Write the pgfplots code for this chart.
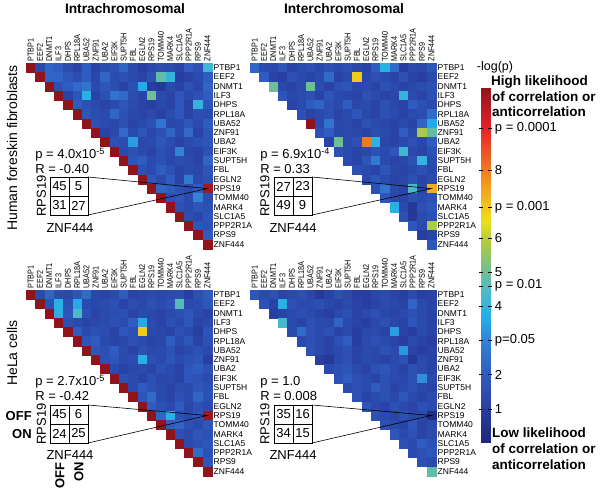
\documentclass[border=0pt]{standalone}
\usepackage{fontspec}
\setmainfont{Liberation Sans}
\usepackage{graphicx}
\usepackage{pgfplots}
\pgfplotsset{compat=1.18}

\newcommand\fs[1]{\fontsize{#1}{#1}\selectfont}
\newcommand\cl[1]{\scalebox{0.85}[1]{#1}}
\newcommand\hrow[2]{\addplot[cell] table[x expr=\coordindex+#1, y expr=19-#1, meta index=0, header=false, row sep=\\]{#2};}

\pgfplotsset{
  colormap={cm}{
    rgb255(0pt)=(30,38,120);
    rgb255(10pt)=(40,62,160);
    rgb255(20pt)=(47,92,192);
    rgb255(30pt)=(50,130,215);
    rgb255(37pt)=(35,175,235);
    rgb255(45pt)=(80,188,195);
    rgb255(50pt)=(110,190,150);
    rgb255(60pt)=(185,205,55);
    rgb255(65pt)=(235,225,25);
    rgb255(75pt)=(245,160,30);
    rgb255(92pt)=(230,35,40);
    rgb255(104pt)=(145,20,28)
  },
  hm/.style={
    anchor=north west,
    x=9.3pt, y=9.3pt, xmin=-0.5, xmax=19.5, ymin=-0.5, ymax=19.5,
    axis line style={draw=none}, major tick length=0pt, tick style={draw=none},
    xtick={0,...,19}, ytick={0,...,19},
    xticklabels={\cl{PTBP1},\cl{EEF2},\cl{DNMT1},\cl{ILF3},\cl{DHPS},\cl{RPL18A},\cl{UBA52},\cl{ZNF91},\cl{UBA2},\cl{EIF3K},\cl{SUPT5H},\cl{FBL},\cl{EGLN2},\cl{RPS19},\cl{TOMM40},\cl{MARK4},\cl{SLC1A5},\cl{PPP2R1A},\cl{RPS9},\cl{ZNF444}},
    yticklabels={ZNF444,RPS9,PPP2R1A,SLC1A5,MARK4,TOMM40,RPS19,EGLN2,FBL,SUPT5H,EIF3K,UBA2,ZNF91,UBA52,RPL18A,DHPS,ILF3,DNMT1,EEF2,PTBP1},
    xticklabel pos=right, yticklabel pos=right,
    x tick label style={rotate=90, anchor=west, font=\fs{8.5}, inner sep=1.5pt},
    y tick label style={anchor=west, font=\fs{8.5}, inner sep=1.5pt},
    colormap name=cm, point meta min=0, point meta max=10.4, clip=false,
  },
  cell/.style={scatter, only marks, mark=square*, mark size=4.55pt, point meta=explicit,
    scatter/use mapped color={draw=mapped color, fill=mapped color}, mark options={line width=0.2pt}},
}

\begin{document}
\begin{tikzpicture}
\useasboundingbox (0,0) rectangle (600pt,490pt);

% ---------- headings and colour-bar texts
\node[font=\fs{13.75}\bfseries] at (125pt,481pt) {Intrachromosomal};
\node[font=\fs{13.75}\bfseries] at (344pt,481pt) {Interchromosomal};
\node[font=\fs{14}, rotate=90] at (12pt,342pt) {Human foreskin fibroblasts};
\node[font=\fs{14}, rotate=90] at (12pt,137pt) {HeLa cells};
\node[inner sep=0pt] at (495pt,423pt) {\fontsize{12.5}{14}\selectfont -log(p)};
\begin{scope}[every node/.style={font=\fs{13.5}\bfseries, anchor=west, inner sep=0pt}]
\node at (491pt,408pt) {High likelihood};
\node at (492pt,393pt) {of correlation or};
\node at (492pt,378pt) {anticorrelation};
\node at (492pt,57pt) {Low likelihood};
\node at (492pt,41pt) {of correlation or};
\node at (492pt,25pt) {anticorrelation};
\end{scope}

% ---------- Top-left: fibroblasts, intrachromosomal
\begin{axis}[hm, at={(26pt,427pt)}]
\hrow{0}{10.4\\1.3\\2.2\\2.0\\1.5\\1.2\\2.0\\1.2\\1.5\\1.6\\2.2\\1.4\\1.0\\1.3\\1.5\\1.4\\1.2\\2.0\\1.6\\4.2\\}
\hrow{1}{10.4\\2.2\\2.2\\1.8\\1.5\\2.0\\1.3\\2.2\\1.5\\1.6\\1.4\\1.2\\1.6\\4.8\\4.0\\1.0\\1.2\\1.4\\2.0\\}
\hrow{2}{10.4\\1.6\\2.0\\2.4\\2.6\\1.4\\1.8\\1.5\\1.2\\1.6\\3.6\\1.0\\0.8\\1.4\\1.2\\1.6\\1.3\\2.2\\}
\hrow{3}{10.4\\1.2\\1.8\\3.8\\1.2\\1.6\\2.6\\2.4\\1.5\\1.2\\5.0\\1.4\\1.2\\1.8\\1.4\\1.6\\2.0\\}
\hrow{4}{10.4\\2.0\\1.6\\1.4\\1.2\\1.4\\1.8\\1.4\\1.2\\1.0\\1.3\\1.2\\1.8\\1.2\\4.0\\1.8\\}
\hrow{5}{10.4\\1.8\\1.5\\1.4\\2.2\\1.6\\1.3\\1.2\\1.4\\1.1\\1.5\\1.8\\1.2\\1.6\\1.5\\}
\hrow{6}{10.4\\1.6\\1.4\\1.3\\1.6\\1.2\\1.4\\1.6\\2.6\\1.3\\1.4\\1.8\\1.4\\2.0\\}
\hrow{7}{10.4\\1.2\\1.3\\2.4\\1.4\\1.8\\1.3\\1.6\\2.2\\1.4\\2.4\\1.2\\1.8\\}
\hrow{8}{10.4\\1.6\\1.5\\3.4\\1.3\\1.4\\1.8\\1.5\\1.2\\1.4\\1.6\\1.8\\}
\hrow{9}{10.4\\1.4\\1.6\\1.4\\1.2\\1.6\\1.4\\3.0\\1.3\\1.2\\1.6\\}
\hrow{10}{10.4\\1.8\\2.0\\1.4\\1.6\\1.3\\1.5\\1.4\\1.2\\2.2\\}
\hrow{11}{10.4\\1.6\\1.4\\2.0\\1.6\\1.2\\1.4\\1.3\\1.8\\}
\hrow{12}{10.4\\1.8\\1.4\\2.0\\1.2\\2.8\\1.4\\1.6\\}
\hrow{13}{10.4\\2.2\\2.0\\1.6\\1.4\\2.0\\10.1\\}
\hrow{14}{10.4\\1.6\\1.8\\1.4\\3.0\\1.5\\}
\hrow{15}{10.4\\1.6\\1.4\\1.8\\1.6\\}
\hrow{16}{10.4\\1.5\\1.3\\1.8\\}
\hrow{17}{10.4\\1.8\\1.6\\}
\hrow{18}{10.4\\2.0\\}
\hrow{19}{10.4\\}
\end{axis}

% ---------- Top-right: fibroblasts, interchromosomal
\begin{axis}[hm, at={(250pt,427pt)}]
\hrow{0}{2.2\\1.4\\1.4\\1.8\\1.2\\1.4\\1.6\\1.3\\1.6\\1.4\\1.6\\1.3\\1.2\\2.0\\3.8\\2.4\\1.0\\1.4\\1.3\\1.8\\}
\hrow{1}{2.0\\1.2\\1.0\\1.6\\1.4\\1.2\\1.4\\2.4\\1.2\\1.4\\6.8\\1.3\\1.6\\1.4\\1.2\\1.6\\1.2\\1.0\\1.4\\}
\hrow{2}{5.0\\1.3\\1.2\\1.4\\5.0\\1.5\\1.2\\1.6\\1.8\\1.3\\1.4\\1.2\\1.6\\1.4\\1.2\\1.3\\1.5\\1.6\\}
\hrow{3}{1.8\\1.3\\1.4\\1.6\\1.2\\1.8\\1.4\\1.3\\1.2\\1.6\\1.4\\1.2\\1.3\\4.0\\1.4\\1.2\\1.6\\}
\hrow{4}{1.2\\1.4\\2.0\\2.2\\1.6\\1.4\\2.0\\1.3\\1.4\\1.2\\1.6\\1.3\\1.2\\2.0\\1.6\\1.4\\}
\hrow{5}{1.6\\1.2\\1.4\\1.6\\1.2\\1.4\\1.8\\1.3\\1.2\\1.6\\1.4\\1.2\\1.4\\1.5\\2.4\\}
\hrow{6}{10.4\\1.4\\2.6\\1.3\\1.4\\1.2\\1.6\\1.4\\1.3\\1.2\\1.4\\1.2\\2.2\\3.6\\}
\hrow{7}{1.6\\2.0\\1.3\\1.4\\1.3\\1.2\\1.5\\1.4\\1.2\\2.0\\1.4\\5.8\\4.8\\}
\hrow{8}{1.2\\5.0\\1.4\\1.6\\8.0\\3.9\\1.3\\1.2\\1.4\\1.6\\1.3\\2.0\\}
\hrow{9}{1.6\\1.4\\1.2\\1.3\\1.6\\1.4\\1.8\\4.2\\1.4\\1.2\\1.6\\}
\hrow{10}{1.4\\1.2\\1.8\\2.8\\1.4\\1.2\\1.3\\1.6\\4.0\\1.4\\}
\hrow{11}{1.6\\1.4\\1.2\\1.8\\1.3\\1.2\\1.4\\1.6\\1.3\\}
\hrow{12}{1.4\\1.8\\1.4\\1.2\\1.3\\1.6\\1.2\\1.4\\}
\hrow{13}{1.6\\2.6\\1.4\\1.2\\4.4\\1.3\\7.3\\}
\hrow{14}{1.8\\1.3\\1.2\\1.6\\1.4\\1.6\\}
\hrow{15}{3.8\\1.4\\0.8\\1.6\\1.8\\}
\hrow{16}{1.6\\0.8\\1.4\\1.6\\}
\hrow{17}{1.8\\1.4\\5.8\\}
\hrow{18}{1.0\\1.2\\}
\hrow{19}{1.8\\}
\end{axis}

% ---------- Bottom-left: HeLa, intrachromosomal
\begin{axis}[hm, at={(26pt,200pt)}]
\hrow{0}{10.4\\1.4\\2.2\\1.5\\1.3\\1.8\\2.4\\1.3\\1.2\\1.4\\2.0\\1.2\\1.3\\1.4\\1.3\\1.4\\1.5\\1.0\\1.6\\2.0\\}
\hrow{1}{10.4\\1.6\\3.8\\1.6\\3.6\\1.4\\1.3\\1.4\\1.6\\1.2\\1.5\\1.3\\1.6\\1.4\\1.6\\4.6\\1.4\\1.5\\1.8\\}
\hrow{2}{10.4\\3.8\\1.8\\4.4\\1.6\\1.2\\1.4\\1.5\\1.6\\1.2\\1.4\\1.3\\1.2\\1.4\\1.6\\1.8\\1.4\\1.2\\}
\hrow{3}{10.4\\1.6\\1.4\\1.2\\1.3\\1.4\\1.6\\1.4\\2.0\\3.6\\1.4\\1.2\\1.6\\1.4\\1.8\\1.2\\1.4\\}
\hrow{4}{10.4\\2.0\\1.4\\1.6\\1.5\\1.2\\1.8\\1.6\\6.8\\1.4\\1.3\\1.2\\1.6\\1.4\\1.0\\1.8\\}
\hrow{5}{10.4\\1.8\\2.0\\1.4\\1.2\\1.3\\1.6\\1.4\\1.2\\1.3\\2.0\\1.4\\1.8\\1.2\\1.6\\}
\hrow{6}{10.4\\1.8\\1.6\\2.0\\1.4\\1.2\\1.6\\1.3\\1.4\\1.6\\1.2\\1.4\\1.6\\1.4\\}
\hrow{7}{10.4\\1.6\\1.8\\1.4\\1.5\\3.8\\1.6\\1.4\\1.8\\1.4\\1.6\\1.8\\1.0\\}
\hrow{8}{10.4\\1.4\\1.2\\1.3\\1.4\\1.2\\1.6\\1.4\\1.2\\1.8\\2.0\\1.6\\}
\hrow{9}{10.4\\1.6\\1.4\\1.2\\1.6\\1.3\\1.4\\1.2\\1.8\\1.6\\1.4\\}
\hrow{10}{10.4\\1.4\\2.0\\1.6\\1.4\\1.2\\1.5\\1.4\\1.8\\1.6\\}
\hrow{11}{10.4\\1.8\\2.4\\1.4\\1.2\\1.6\\1.4\\2.2\\1.6\\}
\hrow{12}{10.4\\2.0\\1.6\\1.4\\2.0\\1.3\\1.6\\1.4\\}
\hrow{13}{10.4\\2.2\\3.8\\1.6\\1.4\\1.8\\10.2\\}
\hrow{14}{10.4\\2.0\\2.2\\1.6\\1.4\\1.8\\}
\hrow{15}{10.4\\1.6\\1.4\\1.8\\1.6\\}
\hrow{16}{10.4\\1.4\\1.6\\1.8\\}
\hrow{17}{10.4\\2.4\\1.6\\}
\hrow{18}{10.4\\1.8\\}
\hrow{19}{10.4\\}
\end{axis}

% ---------- Bottom-right: HeLa, interchromosomal
\begin{axis}[hm, at={(250pt,200pt)}]
\hrow{0}{1.8\\1.4\\1.6\\1.2\\1.4\\1.6\\1.3\\0.8\\1.2\\1.6\\1.3\\1.0\\1.0\\1.3\\1.4\\1.2\\1.0\\1.4\\1.0\\1.2\\}
\hrow{1}{1.6\\1.2\\3.8\\1.6\\1.4\\1.4\\1.6\\1.3\\1.2\\1.4\\1.2\\1.0\\1.2\\1.4\\1.3\\1.2\\2.2\\1.4\\1.2\\}
\hrow{2}{1.0\\1.2\\1.4\\1.6\\1.4\\1.2\\1.0\\1.4\\1.6\\1.2\\1.4\\1.6\\1.3\\1.2\\1.4\\1.6\\1.4\\1.2\\}
\hrow{3}{4.3\\1.4\\1.2\\1.6\\1.4\\1.3\\2.2\\1.4\\1.2\\1.0\\1.4\\1.6\\1.3\\1.2\\1.8\\1.4\\1.2\\}
\hrow{4}{1.4\\2.4\\1.6\\1.4\\1.6\\1.2\\1.4\\1.0\\1.3\\1.4\\1.2\\3.4\\1.2\\1.0\\1.4\\1.2\\}
\hrow{5}{1.4\\1.6\\1.4\\1.2\\1.6\\2.0\\1.0\\1.4\\1.6\\1.4\\1.2\\1.0\\1.4\\1.2\\1.0\\}
\hrow{6}{1.6\\1.4\\1.2\\1.4\\1.6\\1.2\\1.4\\1.3\\1.6\\1.4\\3.3\\1.2\\1.0\\1.2\\}
\hrow{7}{1.0\\0.8\\1.4\\1.6\\1.2\\1.4\\1.3\\1.2\\1.4\\1.6\\0.8\\1.4\\1.2\\}
\hrow{8}{1.4\\1.6\\1.8\\1.4\\1.2\\1.6\\1.8\\1.4\\1.2\\1.6\\1.4\\1.2\\}
\hrow{9}{1.6\\2.0\\1.6\\1.4\\1.2\\1.6\\1.4\\1.3\\1.6\\3.2\\1.4\\}
\hrow{10}{1.4\\1.6\\1.4\\2.0\\1.6\\1.2\\1.4\\1.6\\1.3\\1.2\\}
\hrow{11}{1.6\\1.2\\1.4\\1.6\\1.3\\1.8\\1.4\\1.2\\1.4\\}
\hrow{12}{1.8\\1.4\\1.2\\1.6\\1.4\\1.2\\1.6\\1.4\\}
\hrow{13}{1.6\\1.4\\1.2\\1.6\\1.3\\1.4\\0.3\\}
\hrow{14}{1.6\\1.4\\1.2\\1.8\\1.2\\1.4\\}
\hrow{15}{1.8\\1.4\\1.6\\1.2\\1.4\\}
\hrow{16}{1.6\\1.4\\2.0\\1.6\\}
\hrow{17}{1.4\\1.6\\1.8\\}
\hrow{18}{1.6\\1.4\\}
\hrow{19}{4.8\\}
\end{axis}

% ---------- colour bar (own axis, gradient from the colormap)
\begin{axis}[at={(481pt,402pt)}, anchor=north west, scale only axis,
  width=9pt, height=355pt, xmin=0, xmax=1, ymin=0, ymax=10.4,
  axis line style={draw=none}, xtick=\empty, axis on top,
  colormap name=cm, point meta min=0, point meta max=10.4,
  ytick={1,2,2.996,4,4.605,5,6,6.908,8,9.210},
  yticklabels={1,2,p=0.05,4,p = 0.01,5,6,p = 0.001,8,p = 0.0001},
  ytick pos=both, yticklabel pos=right, tick align=center, major tick length=3.5pt,
  ytick style={black, line width=0.5pt},
  yticklabel style={font=\fs{13}, anchor=west, inner sep=1pt, xshift=2pt}]
\addplot[surf, shader=interp, point meta=y, mesh/rows=2, mesh/cols=2] coordinates {(0,0) (1,0) (0,10.4) (1,10.4)};
\end{axis}

% ---------- insets
\begin{scope}[line width=0.6pt, every node/.style={font=\fs{13}, inner sep=0pt}]
% top-left
\node[anchor=west] at (35pt,335pt) {p = 4.0x10\textsuperscript{-5}};
\node[anchor=west] at (35pt,321pt) {R = -0.40};
\draw (50pt,313pt) rectangle (88pt,275pt);
\draw (69pt,313pt) -- (69pt,275pt) (50pt,294pt) -- (88pt,294pt);
\node at (59.5pt,303.5pt) {45}; \node at (78.5pt,303.5pt) {5};
\node at (59.5pt,284.5pt) {31}; \node at (78.5pt,284.5pt) {27};
\node[rotate=90] at (41.5pt,294pt) {RPS19};
\node at (70pt,262pt) {ZNF444};
\draw (88pt,313pt) -- (207.3pt,301.4pt) -- (88pt,275pt);
% top-right
\node[anchor=west] at (260pt,335pt) {p = 6.9x10\textsuperscript{-4}};
\node[anchor=west] at (260pt,321pt) {R = 0.33};
\draw (274pt,313pt) rectangle (312pt,275pt);
\draw (293pt,313pt) -- (293pt,275pt) (274pt,294pt) -- (312pt,294pt);
\node at (283.5pt,303.5pt) {27}; \node at (302.5pt,303.5pt) {23};
\node at (283.5pt,284.5pt) {49}; \node at (302.5pt,284.5pt) {9};
\node[rotate=90] at (265pt,294pt) {RPS19};
\node at (293pt,262pt) {ZNF444};
\draw (312pt,313pt) -- (431.3pt,301.4pt) -- (312pt,275pt);
% bottom-left
\node[anchor=west] at (35pt,108pt) {p = 2.7x10\textsuperscript{-5}};
\node[anchor=west] at (35pt,94pt) {R = -0.42};
\draw (50pt,85pt) rectangle (88pt,47pt);
\draw (69pt,85pt) -- (69pt,47pt) (50pt,66pt) -- (88pt,66pt);
\node at (59.5pt,75.5pt) {45}; \node at (78.5pt,75.5pt) {6};
\node at (59.5pt,56.5pt) {24}; \node at (78.5pt,56.5pt) {25};
\node[rotate=90] at (41.5pt,66pt) {RPS19};
\node at (70pt,35pt) {ZNF444};
\draw (88pt,85pt) -- (207.3pt,74.5pt) -- (88pt,47pt);
\node[anchor=east, font=\fs{13}\bfseries] at (32pt,74pt) {OFF};
\node[anchor=east, font=\fs{13}\bfseries] at (32pt,56pt) {ON};
\node[anchor=east, rotate=90, font=\fs{13}\bfseries] at (60pt,28pt) {OFF};
\node[anchor=east, rotate=90, font=\fs{13}\bfseries] at (79pt,28pt) {ON};
% bottom-right
\node[anchor=west] at (260pt,108pt) {p = 1.0};
\node[anchor=west] at (260pt,94pt) {R = 0.008};
\draw (274pt,85pt) rectangle (312pt,47pt);
\draw (293pt,85pt) -- (293pt,47pt) (274pt,66pt) -- (312pt,66pt);
\node at (283.5pt,75.5pt) {35}; \node at (302.5pt,75.5pt) {16};
\node at (283.5pt,56.5pt) {34}; \node at (302.5pt,56.5pt) {15};
\node[rotate=90] at (265pt,66pt) {RPS19};
\node at (293pt,35pt) {ZNF444};
\draw (312pt,85pt) -- (431.3pt,74.5pt) -- (312pt,47pt);
\end{scope}
\end{tikzpicture}
\end{document}
